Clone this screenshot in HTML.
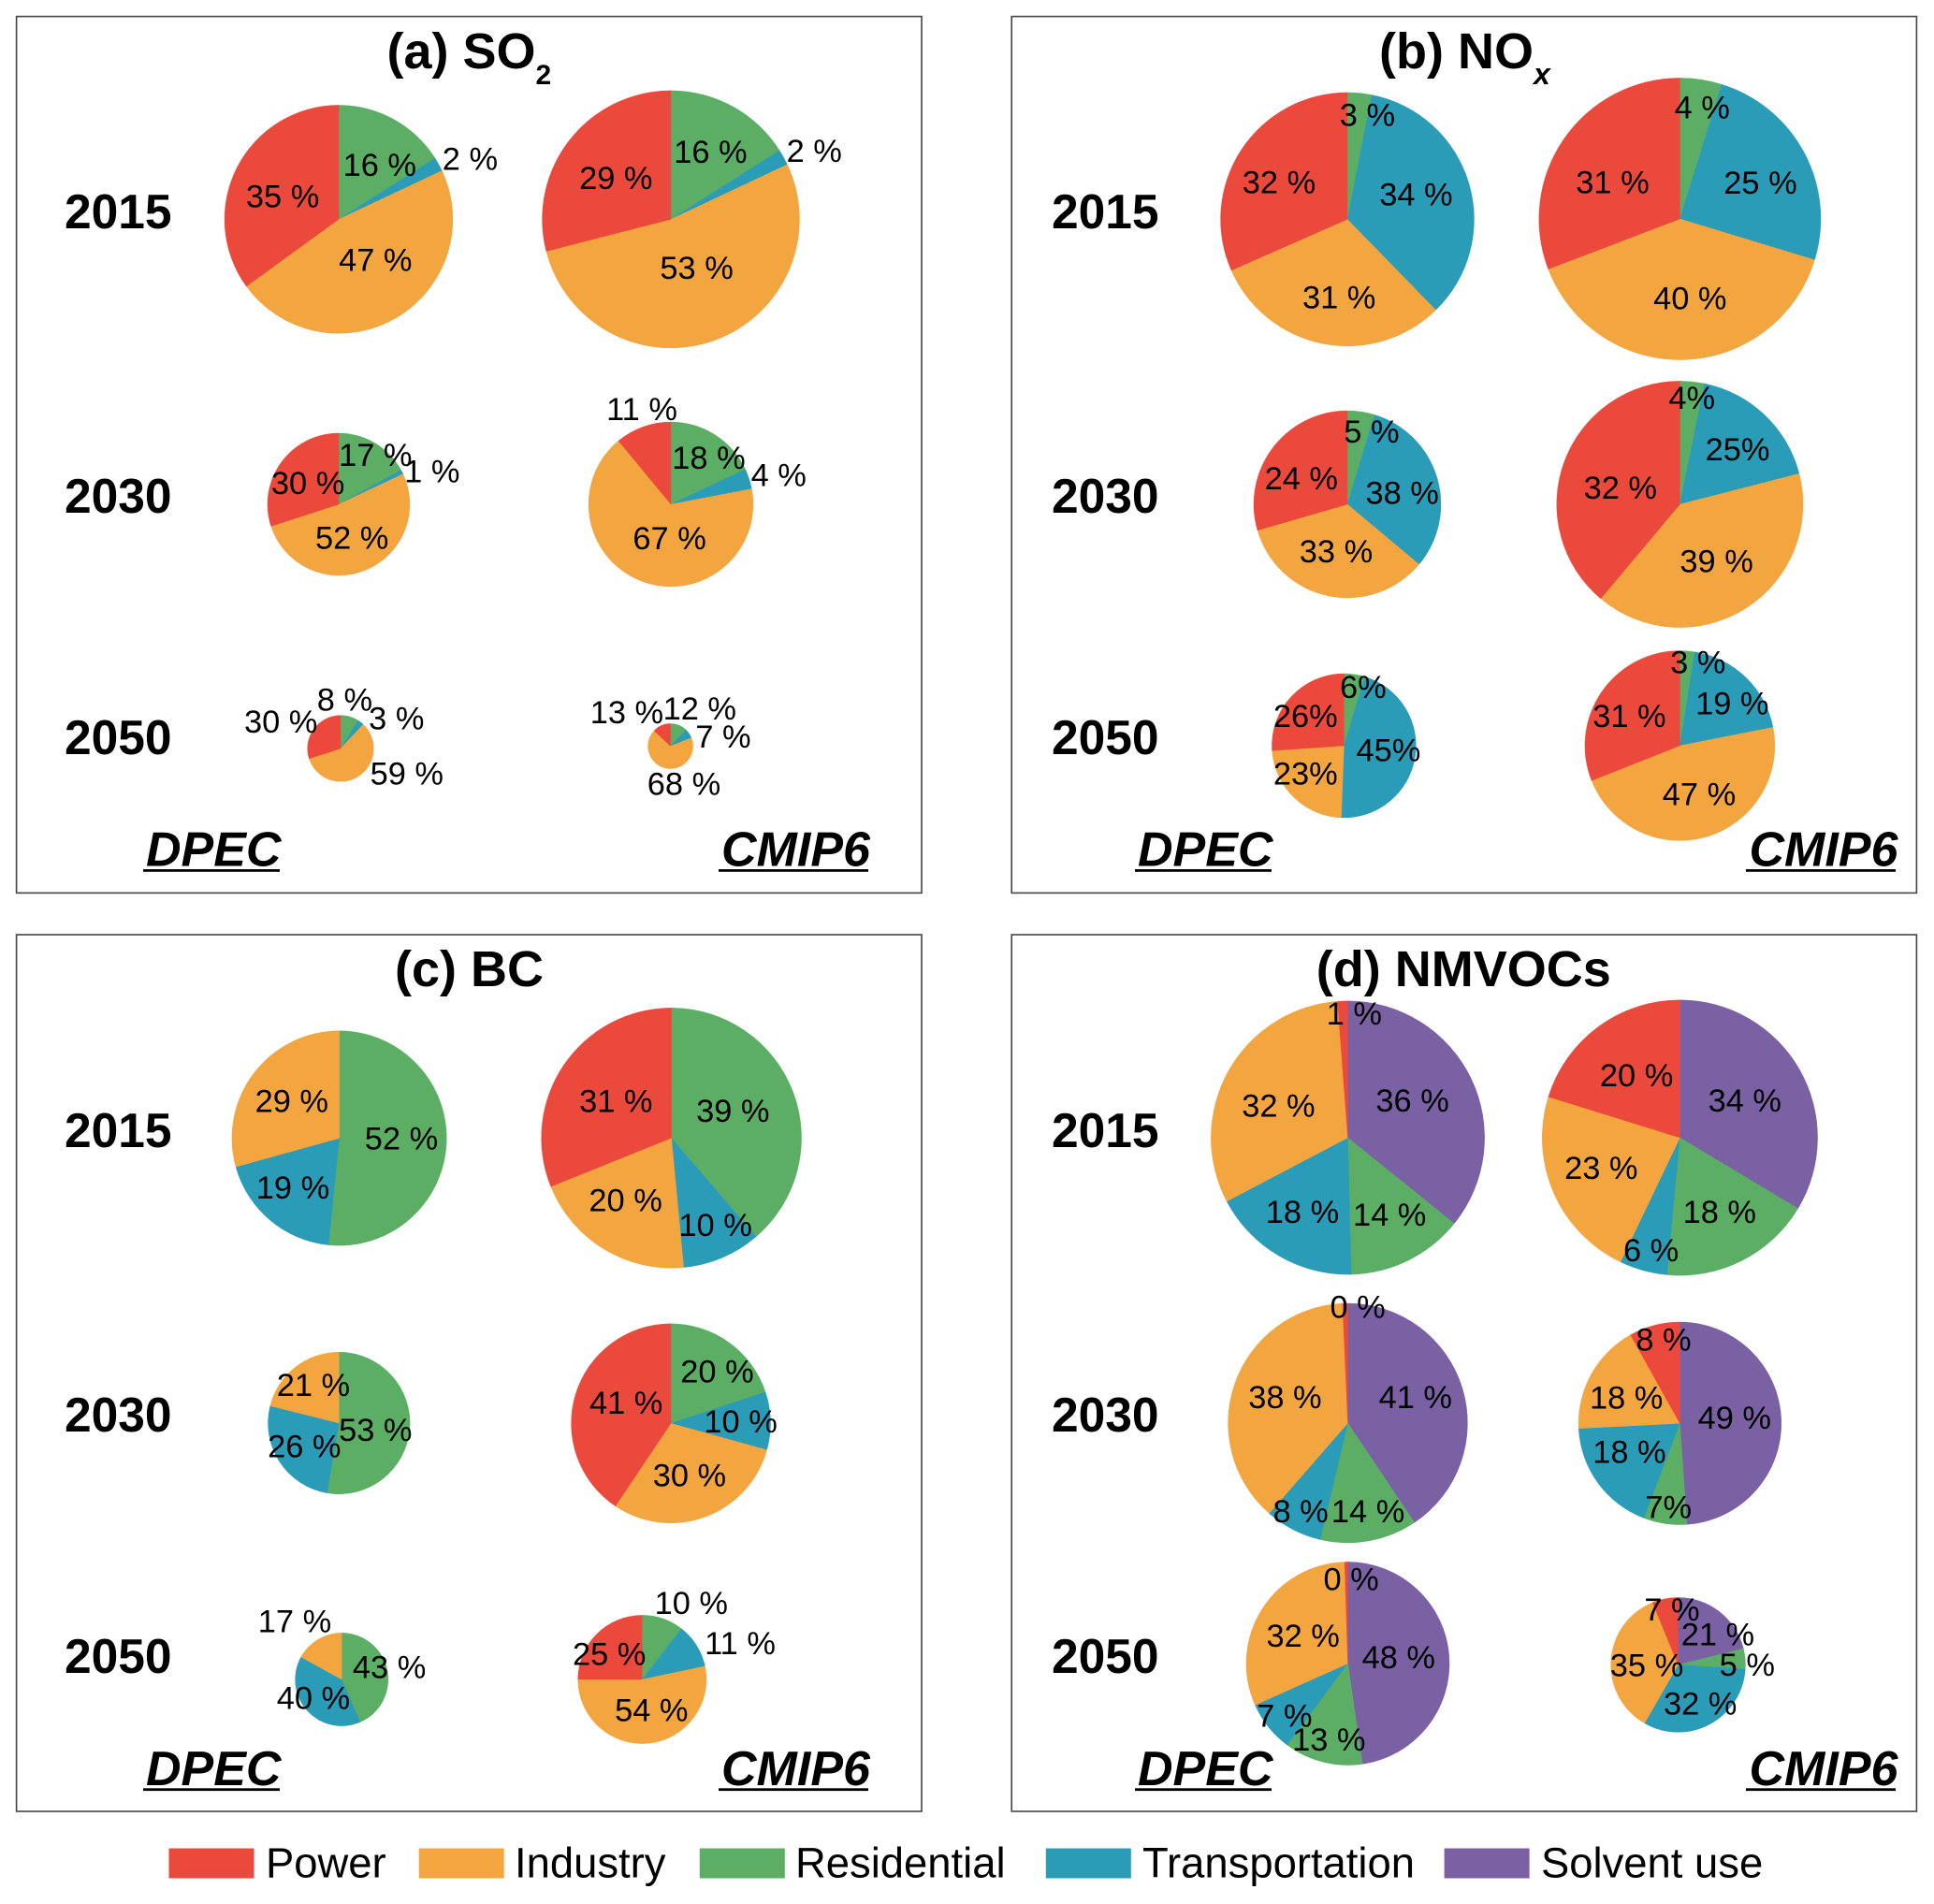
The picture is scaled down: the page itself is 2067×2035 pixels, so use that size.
<!DOCTYPE html>
<html lang="en">
<head>
<meta charset="utf-8">
<title>Sectoral emission shares: DPEC vs CMIP6</title>
<style>
html,body{margin:0;padding:0;background:#fff;}
svg{display:block;font-family:"Liberation Sans",Arial,sans-serif;}
.frame{fill:none;stroke:#444;stroke-width:1.6;}
.title{font-size:54px;font-weight:bold;fill:#000;}
.year{font-size:51.5px;font-weight:bold;fill:#000;}
.source{font-size:52px;font-weight:bold;font-style:italic;fill:#000;}
.legend-text{font-size:45.4px;fill:#000;}
.pct{font-size:34.4px;fill:#000;text-anchor:middle;}
</style>
</head>
<body>
<svg id="chart" xmlns="http://www.w3.org/2000/svg" width="2067" height="2035" viewBox="0 0 2067 2035">
  <rect width="2067" height="2035" fill="#fff"/>

  <rect class="frame" x="17.6" y="17.6" width="967.4" height="936.8"/>
  <rect class="frame" x="1081.2" y="17.6" width="967.2" height="936.8"/>
  <rect class="frame" x="17.6" y="999" width="967.4" height="937"/>
  <rect class="frame" x="1081.2" y="999" width="967.2" height="937"/>

  <g id="pies"></g>

  <text class="title" x="413.5" y="73">(a) SO<tspan font-size="30" dy="17">2</tspan></text>
  <text class="title" x="1474" y="73">(b) NO<tspan font-size="32" font-style="italic" dy="17">x</tspan></text>
  <text class="title" x="422" y="1054">(c) BC</text>
  <text class="title" x="1406.8" y="1054">(d) NMVOCs</text>

  <text class="year" x="69" y="244">2015</text>
  <text class="year" x="69" y="548">2030</text>
  <text class="year" x="69" y="806">2050</text>
  <text class="year" x="1124" y="244">2015</text>
  <text class="year" x="1124" y="548">2030</text>
  <text class="year" x="1124" y="806">2050</text>
  <text class="year" x="69" y="1226">2015</text>
  <text class="year" x="69" y="1530">2030</text>
  <text class="year" x="69" y="1788">2050</text>
  <text class="year" x="1124" y="1226">2015</text>
  <text class="year" x="1124" y="1530">2030</text>
  <text class="year" x="1124" y="1788">2050</text>

  <text class="source" x="156" y="925.7">DPEC</text>
  <rect x="153" y="929" width="146" height="2.8" fill="#000"/>
  <text class="source" x="771" y="925.7">CMIP6</text>
  <rect x="768" y="929" width="160" height="2.8" fill="#000"/>
  <text class="source" x="1216" y="925.7">DPEC</text>
  <rect x="1213" y="929" width="146" height="2.8" fill="#000"/>
  <text class="source" x="1869.5" y="925.7">CMIP6</text>
  <rect x="1866" y="929" width="160" height="2.8" fill="#000"/>
  <text class="source" x="156" y="1908">DPEC</text>
  <rect x="153" y="1911.3" width="146" height="2.8" fill="#000"/>
  <text class="source" x="771" y="1908">CMIP6</text>
  <rect x="768" y="1911.3" width="160" height="2.8" fill="#000"/>
  <text class="source" x="1216" y="1908">DPEC</text>
  <rect x="1213" y="1911.3" width="146" height="2.8" fill="#000"/>
  <text class="source" x="1869.5" y="1908">CMIP6</text>
  <rect x="1866" y="1911.3" width="160" height="2.8" fill="#000"/>

  <g>
    <rect x="180.5" y="1975.5" width="91" height="32" fill="#EC493D"/>
    <text class="legend-text" x="284" y="2006.7">Power</text>
    <rect x="447.7" y="1975.5" width="91" height="32" fill="#F3A53F"/>
    <text class="legend-text" x="550" y="2006.7">Industry</text>
    <rect x="747.8" y="1975.5" width="91" height="32" fill="#5BAE64"/>
    <text class="legend-text" x="850" y="2006.7">Residential</text>
    <rect x="1117.8" y="1975.5" width="91" height="32" fill="#2B9CB8"/>
    <text class="legend-text" x="1221" y="2006.7">Transportation</text>
    <rect x="1543.6" y="1975.5" width="91" height="32" fill="#7A61A4"/>
    <text class="legend-text" x="1647" y="2006.7">Solvent use</text>
  </g>
</svg>

<script>
// ---------- data (rows: 2015, 2030, 2050; columns: DPEC, CMIP6) ----------
const panelKeys = ['so2', 'nox', 'bc', 'nmvocs'];
const years = ['2015', '2030', '2050'];
const sources = ['dpec', 'cmip6'];

// Sector order drawn clockwise from 12 o'clock
const sectorOrder = ['solvent', 'residential', 'transportation', 'industry', 'power'];

// Shares (%), [solvent, residential, transportation, industry, power]
const so2Shares = [
  [[0, 16, 2, 47, 35], [0, 16, 2, 53, 29]],
  [[0, 17, 1, 52, 30], [0, 18, 4, 67, 11]],
  [[0, 9, 3, 58, 30], [0, 12, 7, 68, 13]]
];
const noxShares = [
  [[0, 3.1, 34.6, 30.7, 31.6], [0, 4.8, 24.9, 39.5, 30.8]],
  [[0, 4.7, 31.4, 34.4, 29.5], [0, 3.2, 17.8, 40.1, 38.9]],
  [[0, 4.7, 45.9, 23.3, 26.1], [0, 2.5, 19.4, 47.1, 31]]
];
const bcShares = [
  [[0, 51.6, 19.1, 29.3, 0], [0, 38.7, 9.8, 20.4, 31.1]],
  [[0, 52.7, 26.2, 21.1, 0], [0, 19.9, 9.4, 30.1, 40.6]],
  [[0, 43.5, 39.5, 17, 0], [0, 10.5, 11.2, 53.3, 25]]
];
const nmvocsShares = [
  [[35.8, 13.8, 17.7, 31.5, 1.2], [33.6, 17.9, 5.6, 22.7, 20.2]],
  [[40.6, 13.1, 7.7, 37.9, 0.7], [48.9, 6.9, 18.4, 17.7, 8.1]],
  [[47.7, 12.5, 8.1, 31.2, 0.5], [21.1, 4.9, 32.3, 35.5, 6.2]]
];

// Printed labels
const so2Labels = [
  [[null, '16 %', '2 %', '47 %', '35 %'], [null, '16 %', '2 %', '53 %', '29 %']],
  [[null, '17 %', '1 %', '52 %', '30 %'], [null, '18 %', '4 %', '67 %', '11 %']],
  [[null, '8 %', '3 %', '59 %', '30 %'], [null, '12 %', '7 %', '68 %', '13 %']]
];
const noxLabels = [
  [[null, '3 %', '34 %', '31 %', '32 %'], [null, '4 %', '25 %', '40 %', '31 %']],
  [[null, '5 %', '38 %', '33 %', '24 %'], [null, '4%', '25%', '39 %', '32 %']],
  [[null, '6%', '45%', '23%', '26%'], [null, '3 %', '19 %', '47 %', '31 %']]
];
const bcLabels = [
  [[null, '52 %', '19 %', '29 %', null], [null, '39 %', '10 %', '20 %', '31 %']],
  [[null, '53 %', '26 %', '21 %', null], [null, '20 %', '10 %', '30 %', '41 %']],
  [[null, '43 %', '40 %', '17 %', null], [null, '10 %', '11 %', '54 %', '25 %']]
];
const nmvocsLabels = [
  [['36 %', '14 %', '18 %', '32 %', '1 %'], ['34 %', '18 %', '6 %', '23 %', '20 %']],
  [['41 %', '14 %', '8 %', '38 %', '0 %'], ['49 %', '7%', '18 %', '18 %', '8 %']],
  [['48 %', '13 %', '7 %', '32 %', '0 %'], ['21 %', '5 %', '32 %', '35 %', '7 %']]
];

// Relative emission totals (pie area encodes the total)
const so2Totals = [[148.8, 189.1], [57.8, 77.4], [12.5, 5.8]];
const noxTotals = [[183.6, 226.8], [100, 173.4], [59.3, 103]];
const bcTotals = [[131.6, 193.2], [57.5, 113.4], [24.7, 47.1]];
const nmvocsTotals = [[213.7, 216.7], [163.8, 117.3], [117.9, 51.8]];

const sharesByPanel = [so2Shares, noxShares, bcShares, nmvocsShares];
const labelsByPanel = [so2Labels, noxLabels, bcLabels, nmvocsLabels];
const totalsByPanel = [so2Totals, noxTotals, bcTotals, nmvocsTotals];

// ---------- layout & scales ----------
function radiusScale(total) {
  return 10 * Math.sqrt(total);
}
function angleScale(cumulativeShare, shareSum) {
  return (cumulativeShare / shareSum) * 2 * Math.PI;
}
function polar(cx, cy, r, angle) {
  return [cx + r * Math.sin(angle), cy - r * Math.cos(angle)];
}
function sectorColor(sector) {
  return {
    solvent: '#7A61A4',
    residential: '#5BAE64',
    transportation: '#2B9CB8',
    industry: '#F3A53F',
    power: '#EC493D'
  }[sector];
}
function pieCentre(p, y, s) {
  const table = [
    [[[362, 234.4], [717, 234.4]], [[362, 539], [717, 539]], [[364, 800], [716.6, 797.5]]],
    [[[1440, 234.4], [1795.4, 234]], [[1440, 539], [1795.4, 539]], [[1436.4, 797], [1795.4, 797]]],
    [[[362.6, 1216.5], [717.6, 1216.3]], [[362.3, 1521], [717, 1521.3]], [[365.2, 1795], [686.3, 1795]]],
    [[[1440.5, 1216], [1795.4, 1216]], [[1440.5, 1521], [1795.4, 1521.3]], [[1440.5, 1778], [1793.5, 1779.4]]]
  ];
  return table[p][y][s];
}
// Hand-placed label anchors, same indexing as the label arrays
function labelAnchor(p, y, s, k) {
  const table = [
    [
      [[null, [405.8, 189.3], [502.4, 183], [401.3, 291.1], [302.1, 223]],
       [null, [759.4, 175.5], [870.2, 174.3], [744.6, 299.3], [658.3, 203.6]]],
      [[null, [401.3, 499.3], [461.8, 516.8], [376.2, 588], [329.1, 529.3]],
       [null, [757.5, 502.4], [832.2, 521.1], [715.6, 588.6], [686, 450.5]]],
      [[null, [368.4, 761.1], [423.8, 781.1], [434.8, 839.9], [300.2, 784.3]],
       [null, [747.8, 770.5], [773, 800.5], [731, 851.1], [669.9, 774.3]]]
    ],
    [
      [[null, [1461.4, 136.1], [1513.4, 221.1], [1431.2, 331.1], [1367, 208]],
       [null, [1819.2, 128], [1881.5, 208.6], [1806.3, 331.8], [1723.5, 208]]],
      [[null, [1465.9, 474.3], [1498.7, 539.9], [1428, 602.4], [1390.8, 524.3]],
       [null, [1808.2, 438.6], [1857, 493.6], [1834.6, 613], [1731.8, 534.3]]],
      [[null, [1456.9, 747.4], [1483.9, 814.9], [1395.3, 839.9], [1395.3, 778.6]],
       [null, [1814.7, 721.1], [1851.3, 764.9], [1816, 861.8], [1741.4, 778.6]]]
    ],
    [
      [[null, [429, 1229.9], [313, 1282.4], [311.8, 1190.2], null],
       [null, [783.3, 1200.3], [764.6, 1322.7], [668.6, 1295.8], [658.3, 1190.2]]],
      [[null, [401.3, 1541.5], [325.3, 1559], [334.9, 1493.7], null],
       [null, [766.5, 1478.9], [791.6, 1532.7], [736.9, 1589.9], [669.2, 1512.5]]],
      [[null, [416.1, 1795.2], [334.9, 1828.1], [315, 1746], null],
       [null, [738.8, 1726.5], [791, 1769.6], [696.3, 1840.9], [651.2, 1781]]]
    ],
    [
      [[[1509.6, 1189.5], [1485.2, 1311.3], [1392, 1308.6], [1366.4, 1194.9], [1447.3, 1096.6]],
       [[1864.8, 1189.5], [1837.8, 1308.6], [1764.6, 1349.7], [1711.3, 1261.5], [1749.1, 1162.6]]],
      [[[1512.8, 1506.5], [1462.1, 1628.3], [1390.1, 1628.3], [1373.4, 1506.5], [1451.1, 1410.2]],
       [[1853.8, 1528.7], [1783.2, 1624.2], [1741.4, 1565], [1738.2, 1507.1], [1778, 1445.2]]],
      [[[1494.8, 1784.4], [1420.3, 1872.6], [1372.8, 1847], [1392.7, 1761.5], [1444.1, 1700.9]],
       [[1835.9, 1760.2], [1867.3, 1792.5], [1817.2, 1834.2], [1760, 1793.1], [1787, 1733.3]]]
    ]
  ];
  return table[p][y][s][k];
}

// ---------- drawing ----------
const SVG_NS = 'http://www.w3.org/2000/svg';
const piesRoot = document.getElementById('pies');
const labelRoot = document.createElementNS(SVG_NS, 'g');
labelRoot.setAttribute('transform', 'translate(0,-1.5)');

function slicePath(cx, cy, r, a0, a1) {
  if (a1 - a0 >= 2 * Math.PI - 1e-6) {
    return 'M' + (cx - r) + ' ' + cy + 'A' + r + ' ' + r + ' 0 1 1 ' + (cx + r) + ' ' + cy +
           'A' + r + ' ' + r + ' 0 1 1 ' + (cx - r) + ' ' + cy + 'Z';
  }
  const start = polar(cx, cy, r, a0);
  const end = polar(cx, cy, r, a1);
  const large = a1 - a0 > Math.PI ? 1 : 0;
  return 'M' + cx + ' ' + cy + 'L' + start[0].toFixed(2) + ' ' + start[1].toFixed(2) +
         'A' + r + ' ' + r + ' 0 ' + large + ' 1 ' + end[0].toFixed(2) + ' ' + end[1].toFixed(2) + 'Z';
}

panelKeys.forEach(function (panelKey, p) {
  years.forEach(function (year, y) {
    sources.forEach(function (source, s) {
      const shares = sharesByPanel[p][y][s];
      const labels = labelsByPanel[p][y][s];
      const total = totalsByPanel[p][y][s];
      const centre = pieCentre(p, y, s);
      const r = radiusScale(total);
      const shareSum = shares.reduce(function (a, b) { return a + b; }, 0);

      const group = document.createElementNS(SVG_NS, 'g');
      
      
      piesRoot.appendChild(group);

      let cumulative = 0;
      shares.forEach(function (share, k) {
        const a0 = angleScale(cumulative, shareSum);
        cumulative += share;
        const a1 = angleScale(cumulative, shareSum);
        if (share > 0) {
          const slice = document.createElementNS(SVG_NS, 'path');
          slice.setAttribute('d', slicePath(centre[0], centre[1], r, a0, a1));
          slice.setAttribute('fill', sectorColor(sectorOrder[k]));
          slice.setAttribute('stroke', sectorColor(sectorOrder[k]));
          slice.setAttribute('stroke-width', '0.4');
          
          
          group.appendChild(slice);
        }
        if (labels[k] !== null) {
          const anchor = labelAnchor(p, y, s, k);
          const text = document.createElementNS(SVG_NS, 'text');
          text.setAttribute('class', 'pct');
          text.setAttribute('x', anchor[0]);
          text.setAttribute('y', anchor[1]);
          text.textContent = labels[k];
          
          
          labelRoot.appendChild(text);
        }
      });
    });
  });
});


piesRoot.appendChild(labelRoot);
</script>
</body>
</html>
